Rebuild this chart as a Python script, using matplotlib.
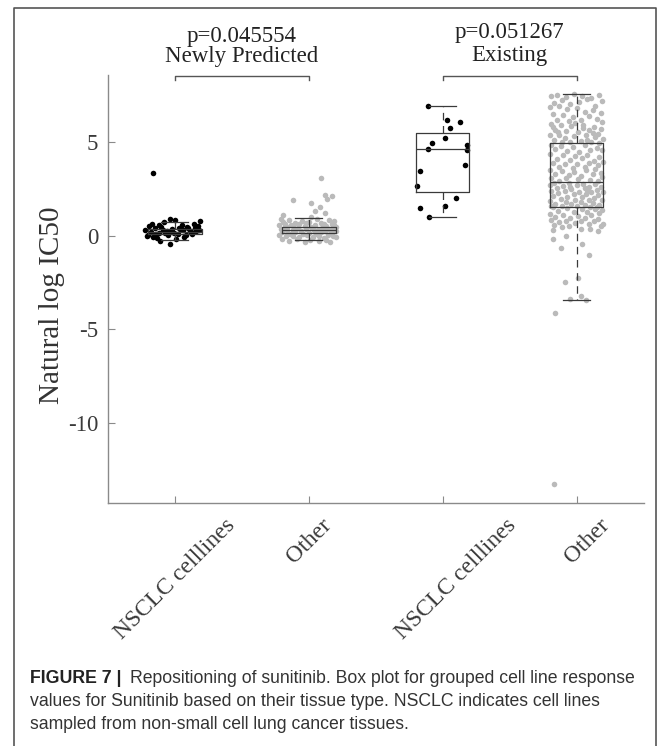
import numpy as np
import matplotlib.pyplot as plt
from matplotlib.lines import Line2D
from matplotlib.transforms import ScaledTranslation

plt.rcParams['font.family'] = ['Liberation Serif', 'DejaVu Serif']
plt.rcParams['axes.unicode_minus'] = False

positions = [1, 2, 3, 4]
tick_labels = ['NSCLC celllines', 'Other', 'NSCLC celllines', 'Other']
group_names = ['Newly Predicted', 'Existing']
p_values = ['p=0.045554', 'p=0.051267']

# box statistics per group
q1 = [0.09, 0.13, 2.34, 1.53]
med = [0.21, 0.29, 4.61, 2.86]
q3 = [0.36, 0.43, 5.48, 4.95]
whislo = [-0.23, -0.23, 0.99, -3.47]
whishi = [0.72, 0.93, 6.94, 7.55]

# cell lines as (jitter, natural log IC50)
nsclc_new = [
    (-0.17, 0.63), (-0.08, 0.70), (-0.04, 0.88), (0.00, 0.84), (0.05, 0.55),
    (0.19, 0.79), (-0.22, 0.28), (-0.20, 0.05), (-0.15, 0.40), (-0.12, 0.15),
    (-0.10, 0.48), (-0.06, 0.22), (-0.02, 0.35), (0.02, 0.10), (0.06, 0.30),
    (0.09, 0.45), (0.12, 0.18), (0.15, 0.38), (0.17, 0.52), (-0.21, -0.05),
    (-0.18, 0.20), (-0.13, -0.15), (-0.09, 0.32), (-0.05, 0.05), (-0.01, 0.12),
    (0.03, 0.42), (0.07, -0.08), (0.11, 0.25), (0.14, 0.60), (0.18, 0.30),
    (-0.19, 0.50), (-0.14, 0.08), (-0.11, -0.30), (-0.07, 0.15), (-0.03, 0.26),
    (0.01, -0.20), (0.04, 0.36), (0.08, 0.02), (0.13, 0.10), (0.16, 0.22),
    (-0.16, -0.10), (-0.12, 0.58), (0.10, 0.40), (-0.04, -0.43), (-0.165, 3.32),
]

other_new = [
    (0.09, 3.08), (0.12, 2.14), (0.175, 2.09), (0.137, 1.95), (-0.12, 1.91),
    (0.015, 1.75), (0.087, 1.53), (0.05, 1.32), (0.12, 1.23), (-0.19, 1.10),
    (0.02, 1.00),
    (-0.21, 0.90), (-0.15, 0.85), (-0.05, 0.80), (0.06, 0.88), (0.15, 0.82),
    (0.19, 0.75), (-0.19, 0.70), (-0.10, 0.68), (0.00, 0.72), (0.09, 0.65),
    (0.17, 0.62), (-0.22, 0.58), (-0.13, 0.55), (-0.03, 0.52), (0.05, 0.58),
    (0.13, 0.50), (0.20, 0.48), (-0.18, 0.45), (-0.08, 0.42), (0.02, 0.46),
    (0.10, 0.40), (0.18, 0.38), (-0.21, 0.35), (-0.12, 0.32), (-0.02, 0.36),
    (0.07, 0.30), (0.15, 0.33), (-0.16, 0.28), (-0.06, 0.25), (0.04, 0.27),
    (0.12, 0.22), (0.20, 0.24), (-0.20, 0.20), (-0.10, 0.18), (0.00, 0.15),
    (0.09, 0.17), (0.17, 0.12), (-0.14, 0.10), (-0.04, 0.08), (0.06, 0.10),
    (0.14, 0.05), (-0.22, 0.03), (-0.12, 0.00), (-0.01, 0.02), (0.08, -0.02),
    (0.18, 0.00), (-0.17, -0.05), (-0.07, -0.08), (0.03, -0.10), (0.11, -0.12),
    (0.20, -0.10), (-0.20, -0.18), (-0.09, -0.20), (0.01, -0.22), (0.13, -0.25),
    (-0.15, -0.30), (-0.03, -0.33), (0.08, -0.30), (0.16, -0.35), (-0.18, 0.62),
    (0.11, 0.60), (-0.07, 0.60), (0.03, 0.40), (-0.16, 0.48), (0.16, 0.28),
    (-0.11, 0.38), (0.05, 0.20), (-0.19, 0.30), (0.19, 0.55), (-0.02, 0.65),
]

nsclc_ex = [
    (-0.11, 6.94), (0.035, 6.16), (0.13, 6.05), (0.056, 5.75), (0.014, 5.20),
    (-0.08, 4.93), (0.18, 4.86), (-0.108, 4.63), (0.18, 4.59), (0.17, 3.75),
    (-0.17, 3.43), (-0.19, 2.66), (0.10, 2.00), (0.02, 1.59), (-0.17, 1.47),
    (-0.106, 0.99),
]

other_ex = [
    (-0.19, 7.45), (-0.15, 7.52), (-0.08, 7.40), (-0.02, 7.55), (0.04, 7.48),
    (0.11, 7.35), (0.17, 7.50), (0.19, 7.20), (-0.17, 7.10), (-0.11, 7.25),
    (-0.05, 7.05), (0.02, 7.15), (0.08, 7.30), (0.14, 6.95), (-0.20, 6.85),
    (-0.13, 6.90), (-0.07, 6.75), (0.00, 6.80), (0.06, 6.60), (0.12, 6.70),
    (0.18, 6.55), (-0.18, 6.50), (-0.10, 6.45), (-0.03, 6.35), (0.09, 6.40),
    (0.15, 6.25), (-0.15, 6.20), (-0.06, 6.10), (0.03, 6.15), (0.19, 6.05),
    (-0.19, 5.95), (-0.12, 5.90), (-0.04, 5.85), (0.05, 5.92), (0.13, 5.80),
    (0.18, 5.70), (-0.16, 5.65), (-0.08, 5.60), (0.01, 5.55), (0.09, 5.62),
    (0.16, 5.45), (-0.20, 5.40), (-0.13, 5.35), (-0.02, 5.30), (0.07, 5.38),
    (0.14, 5.25), (0.20, 5.15), (-0.17, 5.10), (-0.09, 5.20), (0.03, 5.05),
    (0.11, 5.00), (-0.05, 4.98), (0.17, 4.96), (-0.14, 5.55), (0.05, 5.75),
    (-0.01, 6.00), (0.12, 5.50), (-0.18, 5.80), (0.08, 5.12), (-0.11, 5.02),
    (-0.19, 4.85), (-0.12, 4.80), (-0.03, 4.75), (0.06, 4.82), (0.15, 4.70),
    (0.19, 4.55), (-0.16, 4.60), (-0.07, 4.50), (0.02, 4.45), (0.10, 4.58),
    (-0.20, 4.35), (-0.10, 4.30), (-0.01, 4.25), (0.08, 4.32), (0.17, 4.20),
    (-0.15, 4.10), (-0.05, 4.05), (0.04, 4.12), (0.13, 4.00), (0.20, 3.95),
    (-0.18, 3.90), (-0.09, 3.85), (0.00, 3.80), (0.09, 3.88), (0.16, 3.75),
    (-0.13, 3.65), (-0.03, 3.60), (0.06, 3.68), (0.14, 3.55), (-0.20, 3.50),
    (-0.11, 3.45), (-0.02, 3.40), (0.07, 3.48), (0.18, 3.35), (-0.16, 3.30),
    (-0.06, 3.25), (0.03, 3.20), (0.12, 3.28), (0.19, 3.15), (-0.19, 3.10),
    (-0.08, 3.05), (0.01, 3.00), (0.10, 2.95), (0.16, 2.92), (-0.13, 2.90),
    (-0.17, 2.82), (-0.06, 2.80), (0.05, 2.78), (0.14, 2.75), (-0.20, 2.70),
    (-0.10, 2.65), (0.00, 2.68), (0.09, 2.60), (0.18, 2.62), (-0.15, 2.55),
    (-0.04, 2.50), (0.06, 2.52), (0.15, 2.45), (-0.19, 2.40), (-0.09, 2.38),
    (0.02, 2.35), (0.11, 2.30), (0.20, 2.32), (-0.14, 2.25), (-0.02, 2.20),
    (0.07, 2.22), (0.16, 2.15), (-0.18, 2.10), (-0.07, 2.08), (0.04, 2.05),
    (0.13, 2.00), (-0.12, 1.95), (-0.01, 1.92), (0.09, 1.90), (0.19, 1.88),
    (-0.20, 1.85), (-0.08, 1.80), (0.03, 1.78), (0.12, 1.75), (-0.16, 1.70),
    (-0.04, 1.68), (0.06, 1.65), (0.17, 1.62), (-0.11, 1.60), (0.00, 1.58),
    (0.10, 1.55), (-0.19, 1.57), (0.15, 1.54), (-0.05, 2.58), (0.08, 2.42),
    (-0.18, 1.50), (-0.07, 1.45), (0.04, 1.42), (0.14, 1.40), (0.19, 1.35),
    (-0.14, 1.30), (-0.02, 1.25), (0.08, 1.28), (0.17, 1.20), (-0.20, 1.15),
    (-0.10, 1.10), (0.01, 1.05), (0.11, 1.08), (-0.16, 1.00), (-0.05, 0.95),
    (0.06, 0.92), (0.16, 0.90), (-0.19, 0.85), (-0.08, 0.80), (0.03, 0.78),
    (0.13, 0.75), (-0.13, 0.70), (-0.01, 0.65), (0.09, 0.62), (0.20, 0.60),
    (-0.17, 0.55), (-0.06, 0.50), (0.18, 0.52), (-0.18, 0.29), (-0.11, 0.45),
    (0.10, 0.37), (0.03, 0.37), (0.16, 0.24), (-0.18, -0.21), (-0.08, -0.02),
    (0.04, -0.48), (-0.12, -0.67), (0.09, -1.05), (-0.09, -2.50), (0.01, -2.29),
    (-0.05, -3.39), (0.03, -3.23), (0.07, -3.47), (-0.16, -4.17), (-0.17, -13.30),
]

fig = plt.figure(figsize=(6.69, 7.46), dpi=100)
ax = fig.add_axes([0.1613, 0.3253, 0.8007, 0.5741])

point_colors = ['black', '#bababa', 'black', '#bababa']
for pos, pts, c in zip(positions, [nsclc_new, other_new, nsclc_ex, other_ex], point_colors):
    dx, y = np.array(pts).T
    ax.scatter(pos + dx, y, s=16, c=c, linewidths=0, zorder=2, clip_on=False)

stats = [dict(q1=a, med=m, q3=b, whislo=lo, whishi=hi, fliers=[])
         for a, m, b, lo, hi in zip(q1, med, q3, whislo, whishi)]
line_c = '#3a3a3a'
ax.bxp(stats, positions=positions, widths=0.4, capwidths=0.2, showfliers=False,
       boxprops=dict(color=line_c, lw=0.9),
       medianprops=dict(color=line_c, lw=0.9),
       whiskerprops=dict(color=line_c, lw=0.9, ls=(0, (6, 4.5))),
       capprops=dict(color=line_c, lw=0.9), zorder=3)

ax.set_xlim(0.5, 4.5)
ax.set_ylim(-14.32, 8.58)
ax.set_yticks([-10, -5, 0, 5])
ax.set_xticks(positions)
ax.set_xticklabels(tick_labels, rotation=45, ha='center', fontsize=17)

for s in ['top', 'right']:
    ax.spines[s].set_visible(False)
for s in ['left', 'bottom']:
    ax.spines[s].set_color('#8a8a8a')
    ax.spines[s].set_linewidth(1)
ax.tick_params(direction='in', length=5, color='#8a8a8a', labelcolor='#3a3a3a')
ax.tick_params(axis='y', labelsize=16.5, pad=7)
ax.tick_params(axis='x', pad=8)

# the Existing pair of labels sits a little further right
for lab, off in zip(ax.get_xticklabels(), [0, 0, 13, 11]):
    lab.set_transform(lab.get_transform() + ScaledTranslation(off / 100, 0, fig.dpi_scale_trans))

ax.set_ylabel('Natural log IC50', fontsize=21, color='#333333')
ax.yaxis.set_label_coords(-0.105, 0.463)
ax.yaxis.label.set_va('center')

# group brackets with p-values
for (a, b), name, p in zip([(1, 2), (3, 4)], group_names, p_values):
    ax.plot([a, a, b, b], [8.32, 8.53, 8.53, 8.32], color='#555555', lw=1, clip_on=False)
ax.text(1.5, 10.63, p_values[0], ha='center', va='center', fontsize=16.5, color='#222222')
ax.text(1.5, 9.56, group_names[0], ha='center', va='center', fontsize=16.5, color='#222222')
ax.text(3.5, 10.85, p_values[1], ha='center', va='center', fontsize=16.5, color='#222222')
ax.text(3.5, 9.62, group_names[1], ha='center', va='center', fontsize=16.5, color='#222222')

# outer frame, open at the bottom
fx0, fx1, fy = 14 / 669, 655.7 / 669, 1 - 8.3 / 746
fig.add_artist(Line2D([fx0, fx0, fx1, fx1], [-0.05, fy, fy, -0.05],
                      transform=fig.transFigure, color='#555555', lw=1.2))

sans = ['Liberation Sans', 'DejaVu Sans']
cap_y = [683, 706, 729]
fig.text(29.5 / 669, 1 - cap_y[0] / 746, 'FIGURE 7 |', family=sans, fontweight='bold',
         fontsize=12.8, va='baseline', color='#222222')
fig.text(130 / 669, 1 - cap_y[0] / 746,
         'Repositioning of sunitinib. Box plot for grouped cell line response',
         family=sans, fontsize=12.7, va='baseline', color='#333333')
fig.text(29.5 / 669, 1 - cap_y[1] / 746,
         'values for Sunitinib based on their tissue type. NSCLC indicates cell lines',
         family=sans, fontsize=12.7, va='baseline', color='#333333')
fig.text(29.5 / 669, 1 - cap_y[2] / 746,
         'sampled from non-small cell lung cancer tissues.',
         family=sans, fontsize=12.7, va='baseline', color='#333333')

fig.savefig('out.png', dpi=100)
